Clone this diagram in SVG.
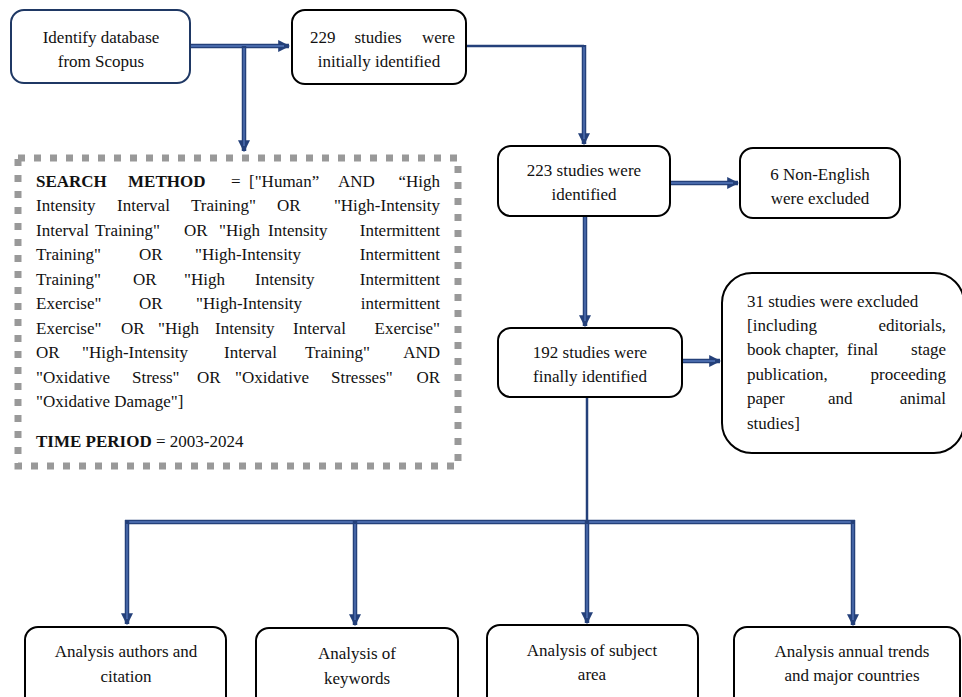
<svg xmlns="http://www.w3.org/2000/svg" width="962" height="697" viewBox="0 0 962 697" font-family="Times New Roman, Liberation Serif, serif">
<defs>
<marker id="ah" markerUnits="userSpaceOnUse" markerWidth="12" markerHeight="12" viewBox="0 0 10 10" refX="9" refY="5" orient="auto">
<path d="M0,0 L10,5 L0,10 z" fill="#24407a"/>
</marker>
</defs>
<rect width="962" height="697" fill="#fff"/>

<g id="connectors" fill="none">
<path stroke="#24407a" stroke-width="4.5" d="M190,46 H289" marker-end="url(#ah)"/>
<path stroke="#5577bb" stroke-width="1.3" d="M190,46 H284"/>
<path stroke="#24407a" stroke-width="4.5" d="M244,46 V151" marker-end="url(#ah)"/>
<path stroke="#5577bb" stroke-width="1.3" d="M244,48 V146"/>
<path stroke="#24407a" stroke-width="2.5" d="M466,46 H584"/>
<path stroke="#24407a" stroke-width="4.5" d="M584,45 V144" marker-end="url(#ah)"/>
<path stroke="#5577bb" stroke-width="1.3" d="M584,47 V139"/>
<path stroke="#24407a" stroke-width="4.5" d="M670,183 H738" marker-end="url(#ah)"/>
<path stroke="#5577bb" stroke-width="1.3" d="M670,183 H733"/>
<path stroke="#24407a" stroke-width="4.5" d="M585,216 V326" marker-end="url(#ah)"/>
<path stroke="#5577bb" stroke-width="1.3" d="M585,216 V321"/>
<path stroke="#24407a" stroke-width="4.5" d="M682,361 H720" marker-end="url(#ah)"/>
<path stroke="#5577bb" stroke-width="1.3" d="M682,361 H715"/>
<path stroke="#24407a" stroke-width="2.5" d="M587,397 V522"/>
<path stroke="#24407a" stroke-width="4.5" d="M125,522 H855"/>
<path stroke="#5577bb" stroke-width="1.3" d="M125,522 H855"/>
<path stroke="#24407a" stroke-width="4.5" d="M127,520 V624" marker-end="url(#ah)"/>
<path stroke="#5577bb" stroke-width="1.3" d="M127,524 V619"/>
<path stroke="#24407a" stroke-width="4.5" d="M355,520 V625" marker-end="url(#ah)"/>
<path stroke="#5577bb" stroke-width="1.3" d="M355,524 V620"/>
<path stroke="#24407a" stroke-width="4.5" d="M587,520 V623" marker-end="url(#ah)"/>
<path stroke="#5577bb" stroke-width="1.3" d="M587,524 V618"/>
<path stroke="#24407a" stroke-width="4.5" d="M853,520 V625" marker-end="url(#ah)"/>
<path stroke="#5577bb" stroke-width="1.3" d="M853,524 V620"/>
</g>

<g font-size="17" fill="#111">
<g id="n-scopus">
<rect x="11" y="10" width="179" height="73" rx="13" fill="#fff" stroke="#1f3864" stroke-width="2"/>
<text text-anchor="middle" x="101" y="43">Identify database</text>
<text text-anchor="middle" x="101" y="67">from Scopus</text>
</g>

<g id="n-229">
<rect x="292" y="10" width="174" height="74" rx="13" fill="#fff" stroke="#000" stroke-width="2"/>
<text x="310" y="43">229</text>
<text text-anchor="middle" x="378" y="43">studies</text>
<text text-anchor="end" x="455" y="43">were</text>
<text text-anchor="middle" x="379" y="67">initially identified</text>
</g>

<g id="n-search">
<rect x="18" y="158" width="440" height="308" fill="none" stroke="#999" stroke-width="7" stroke-dasharray="7 9"/>
<text font-weight="bold" x="36" y="187">SEARCH</text>
<text font-weight="bold" x="128" y="187">METHOD</text>
<text x="231" y="187">=</text>
<text x="249" y="187">["Human”</text>
<text x="338" y="187">AND</text>
<text text-anchor="end" x="440" y="187">“High</text>

<text x="36" y="211">Intensity</text>
<text x="117" y="211">Interval</text>
<text x="191" y="211">Training"</text>
<text x="277" y="211">OR</text>
<text text-anchor="end" x="440" y="211">"High-Intensity</text>

<text x="36" y="236">Interval</text>
<text x="95" y="236">Training"</text>
<text x="184" y="236">OR</text>
<text x="219" y="236">"High</text>
<text x="268" y="236">Intensity</text>
<text text-anchor="end" x="440" y="236">Intermittent</text>

<text x="36" y="260">Training"</text>
<text x="139" y="260">OR</text>
<text x="195" y="260">"High-Intensity</text>
<text text-anchor="end" x="440" y="260">Intermittent</text>

<text x="36" y="285">Training"</text>
<text x="133" y="285">OR</text>
<text x="184" y="285">"High</text>
<text x="255" y="285">Intensity</text>
<text text-anchor="end" x="440" y="285">Intermittent</text>

<text x="36" y="309">Exercise"</text>
<text x="139" y="309">OR</text>
<text x="196" y="309">"High-Intensity</text>
<text text-anchor="end" x="440" y="309">intermittent</text>

<text x="36" y="334">Exercise"</text>
<text x="121" y="334">OR</text>
<text x="158" y="334">"High</text>
<text x="215" y="334">Intensity</text>
<text x="293" y="334">Interval</text>
<text text-anchor="end" x="440" y="334">Exercise"</text>

<text x="36" y="358">OR</text>
<text x="82" y="358">"High-Intensity</text>
<text x="224" y="358">Interval</text>
<text x="305" y="358">Training"</text>
<text text-anchor="end" x="440" y="358">AND</text>

<text x="36" y="383">"Oxidative</text>
<text x="132" y="383">Stress"</text>
<text x="197" y="383">OR</text>
<text x="235" y="383">"Oxidative</text>
<text x="331" y="383">Stresses"</text>
<text text-anchor="end" x="440" y="383">OR</text>

<text x="36" y="407">"Oxidative Damage"]</text>

<text x="36" y="447"><tspan font-weight="bold">TIME PERIOD</tspan> = 2003-2024</text>
</g>

<g id="n-223">
<rect x="498" y="146" width="172" height="70" rx="13" fill="#fff" stroke="#000" stroke-width="2"/>
<text text-anchor="middle" x="584" y="176">223 studies were</text>
<text text-anchor="middle" x="584" y="200">identified</text>
</g>

<g id="n-nonenglish">
<rect x="740" y="148" width="160" height="70" rx="13" fill="#fff" stroke="#000" stroke-width="2"/>
<text text-anchor="middle" x="820" y="180">6 Non-English</text>
<text text-anchor="middle" x="820" y="204">were excluded</text>
</g>

<g id="n-192">
<rect x="498" y="328" width="184" height="69" rx="13" fill="#fff" stroke="#000" stroke-width="2"/>
<text text-anchor="middle" x="590" y="358">192 studies were</text>
<text text-anchor="middle" x="590" y="382">finally identified</text>
</g>

<g id="n-excluded">
<rect x="722" y="273" width="242" height="180" rx="30" fill="#fff" stroke="#000" stroke-width="2"/>
<text x="747" y="307">31 studies were excluded</text>
<text x="747" y="331">[including</text>
<text text-anchor="end" x="946" y="331">editorials,</text>
<text x="747" y="355">book chapter,</text>
<text x="847" y="355">final</text>
<text text-anchor="end" x="946" y="355">stage</text>
<text x="747" y="380">publication,</text>
<text text-anchor="end" x="946" y="380">proceeding</text>
<text x="747" y="404">paper</text>
<text x="828" y="404">and</text>
<text text-anchor="end" x="946" y="404">animal</text>
<text x="747" y="429">studies]</text>
</g>

<g id="n-authors">
<rect x="25" y="627" width="201" height="85" rx="13" fill="#fff" stroke="#000" stroke-width="2"/>
<text text-anchor="middle" x="126" y="657">Analysis authors and</text>
<text text-anchor="middle" x="126" y="682">citation</text>
</g>

<g id="n-keywords">
<rect x="256" y="628" width="202" height="85" rx="13" fill="#fff" stroke="#000" stroke-width="2"/>
<text text-anchor="middle" x="357" y="659">Analysis of</text>
<text text-anchor="middle" x="357" y="684">keywords</text>
</g>

<g id="n-subject">
<rect x="487" y="625" width="211" height="85" rx="13" fill="#fff" stroke="#000" stroke-width="2"/>
<text text-anchor="middle" x="592" y="656">Analysis of subject</text>
<text text-anchor="middle" x="592" y="680">area</text>
</g>

<g id="n-trends">
<rect x="734" y="627" width="226" height="85" rx="13" fill="#fff" stroke="#000" stroke-width="2"/>
<text text-anchor="middle" x="852" y="657">Analysis annual trends</text>
<text text-anchor="middle" x="852" y="681">and major countries</text>
</g>
</g>
</svg>
